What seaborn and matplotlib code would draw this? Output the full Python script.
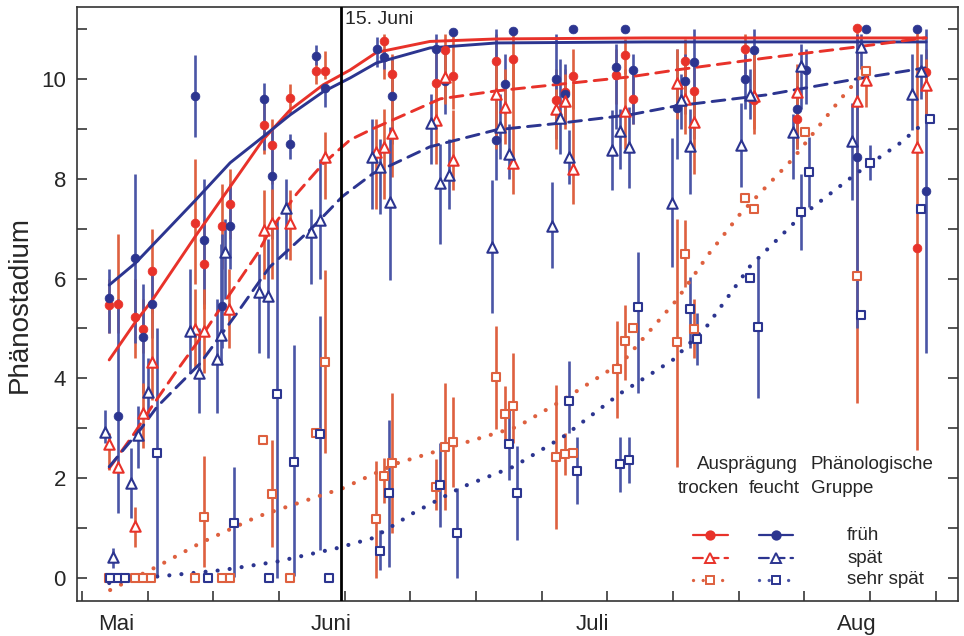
import matplotlib.pyplot as plt
import seaborn as sns

sns.set_theme(style="ticks")
plt.rcParams["font.family"] = ["Liberation Sans", "DejaVu Sans"]

RED = "#e8322a"
RED_BAR = "#de603f"
BLUE = "#2c3590"
BLUE_BAR = "#4a55a6"

# x = Tage (Wochenraster), y = Phänostadium
month_pos = [3.6, 26.6, 54.4, 82.6]
month_lab = ["Mai", "Juni", "Juli", "Aug"]
juni15 = 27.6

# früh, trocken
ft_x = [2.9, 3.8, 5.7, 6.5, 7.5, 12.1, 13.0, 14.9, 15.8, 19.4, 20.3, 22.2, 24.9, 25.9, 32.2, 33.1, 37.7,
        38.7, 39.6, 44.1, 45.9, 50.5, 51.5, 52.4, 56.9, 57.9, 58.8, 64.3, 65.3, 70.7, 71.6, 76.2, 82.6, 89.0, 90.0]
ft_y = [5.47, 5.5, 5.23, 4.99, 6.15, 7.12, 6.29, 7.06, 7.49, 9.08, 8.68, 9.62, 10.16, 10.16, 10.76, 10.1, 9.92,
        10.58, 10.05, 10.35, 10.39, 9.57, 9.73, 10.06, 10.08, 10.47, 9.6, 10.36, 9.76, 10.6, 9.58, 9.2, 11.02, 6.61, 10.13]
ft_lo = [4.9, 4.9, 4.4, 4.5, 5.3, 5.9, 5.4, 6.2, 6.8, 8.5, 7.9, 9.3, 9.9, 10.0, 10.0, 9.6, 9.2,
         10.2, 9.4, 9.7, 9.8, 9.0, 9.2, 9.4, 9.5, 10.1, 9.1, 9.7, 9.0, 10.1, 8.9, 8.7, 3.5, 2.56, 9.6]
ft_hi = [6.0, 6.9, 6.0, 5.6, 7.0, 8.4, 7.2, 7.9, 8.2, 9.7, 9.2, 9.9, 10.45, 10.55, 10.9, 10.5, 10.6,
         10.9, 10.9, 10.9, 10.9, 10.2, 10.2, 10.6, 10.6, 10.8, 10.1, 10.8, 10.3, 10.9, 10.2, 9.7, 11.05, 11.0, 10.6]
ft_cx = [2.9, 5.7, 7.5, 12.1, 15.8, 19.3, 22.2, 25.7, 28.6, 31.4, 37.1, 44.2, 60.0, 90.0]
ft_cy = [4.37, 5.13, 5.57, 6.85, 7.84, 8.78, 9.38, 9.88, 10.18, 10.53, 10.75, 10.8, 10.82, 10.82]

# früh, feucht
ff_x = [2.9, 3.8, 5.7, 6.5, 7.5, 12.1, 13.0, 14.9, 15.8, 19.4, 20.3, 22.2, 24.9, 25.9, 31.4, 32.2, 33.1, 37.7,
        38.7, 39.6, 44.1, 45.1, 45.9, 50.5, 51.5, 52.4, 56.9, 57.9, 58.8, 63.4, 64.3, 65.3, 70.7, 71.6, 76.2,
        77.2, 82.6, 83.6, 89.0, 90.0]
ff_y = [5.62, 3.25, 6.42, 4.83, 5.49, 9.66, 6.77, 5.45, 7.06, 9.59, 8.06, 8.7, 10.46, 9.81, 10.6, 10.43, 9.66, 10.6,
        9.96, 10.94, 8.78, 9.9, 10.95, 10.0, 9.69, 11.0, 10.23, 11.0, 10.18, 9.41, 9.95, 10.33, 10.0, 10.57, 9.4,
        10.17, 8.44, 11.0, 11.0, 7.76]
ff_lo = [4.9, 1.3, 4.7, 3.7, 4.8, 8.84, 5.5, 4.6, 6.2, 8.58, 6.8, 8.4, 10.28, 9.44, 10.24, 10.2, 8.7, 9.8,
         9.3, 10.94, 7.98, 9.3, 10.95, 8.8, 9.1, 11.0, 9.0, 11.0, 9.1, 8.4, 9.3, 8.8, 9.4, 9.8, 8.6,
         9.5, 5.0, 11.0, 11.0, 4.5]
ff_hi = [6.2, 5.6, 8.1, 5.9, 6.1, 10.48, 8.0, 6.9, 7.9, 9.92, 9.0, 8.9, 10.68, 9.92, 10.84, 10.6, 10.4, 10.9,
         10.6, 10.94, 11.0, 10.5, 10.95, 10.9, 10.3, 11.0, 10.7, 11.0, 10.5, 10.6, 10.5, 11.0, 10.5, 11.0, 10.2,
         10.6, 10.9, 11.0, 11.0, 11.0]
ff_cx = [2.9, 5.7, 12.1, 15.8, 19.3, 22.2, 25.7, 28.6, 31.4, 37.1, 44.2, 60.0, 90.0]
ff_cy = [5.87, 6.31, 7.57, 8.32, 8.84, 9.28, 9.74, 10.02, 10.32, 10.62, 10.72, 10.74, 10.74]

# spät, trocken
st_x = [2.9, 3.8, 5.7, 6.5, 7.5, 12.1, 13.0, 15.7, 19.4, 20.3, 22.2, 25.9, 31.3, 32.2, 33.1, 37.7, 38.7,
        39.6, 44.1, 45.1, 45.9, 50.5, 51.5, 52.4, 57.9, 63.4, 64.3, 65.3, 71.6, 76.2, 82.6, 83.6, 89.0, 90.0]
st_y = [2.68, 2.23, 1.04, 3.3, 4.33, 4.98, 4.94, 5.38, 6.97, 7.12, 7.12, 8.44, 8.54, 8.63, 8.91, 9.18, 10.03,
        8.38, 9.7, 9.43, 8.32, 9.39, 9.56, 8.19, 9.36, 9.91, 9.6, 9.14, 9.65, 9.73, 9.55, 9.98, 8.63, 9.87]
st_lo = [2.16, 2.23, 0.63, 2.6, 3.57, 4.2, 4.1, 4.6, 6.0, 6.0, 6.37, 7.6, 7.4, 7.6, 8.04, 8.3, 9.5,
         7.78, 8.6, 8.7, 7.7, 8.6, 9.0, 7.5, 8.6, 9.2, 8.9, 8.1, 9.0, 8.6, 9.55, 9.44, 8.63, 9.3]
st_hi = [2.9, 2.23, 1.43, 3.9, 5.57, 5.8, 5.8, 6.2, 7.78, 7.8, 7.78, 8.94, 9.2, 9.4, 10.38, 9.9, 10.5,
         9.38, 10.3, 10.2, 10.38, 9.8, 10.1, 9.9, 10.2, 10.6, 10.3, 9.8, 10.6, 10.3, 9.55, 10.25, 8.63, 10.4]
st_cx = [2.9, 5.4, 7.5, 9.9, 12.6, 15.8, 18.7, 20.0, 22.9, 25.7, 28.6, 31.0, 38.2, 44.2, 51.3, 58.4, 63.4,
         73.0, 82.6, 89.9]
st_cy = [2.2, 2.85, 3.45, 4.1, 4.8, 5.7, 6.5, 6.95, 7.7, 8.3, 8.78, 9.0, 9.6, 9.76, 9.9, 10.04, 10.18,
         10.42, 10.64, 10.82]

# spät, feucht
sf_x = [2.4, 3.3, 5.2, 6.0, 7.0, 11.5, 12.5, 14.4, 14.8, 15.2, 18.9, 19.8, 21.7, 24.4, 25.4, 30.9, 31.8,
        32.8, 37.2, 38.2, 39.1, 43.7, 44.6, 45.5, 50.1, 51.0, 51.9, 56.5, 57.4, 58.3, 62.9, 63.9, 64.8, 70.3,
        71.2, 75.8, 76.7, 82.1, 83.1, 88.5, 89.5]
sf_y = [2.93, 0.43, 1.91, 2.87, 3.73, 4.94, 4.1, 4.38, 4.87, 6.54, 5.74, 5.65, 7.42, 6.94, 7.17, 8.43, 8.24,
        7.54, 9.11, 7.92, 8.08, 6.64, 9.03, 8.5, 7.06, 9.21, 8.44, 8.58, 8.96, 8.64, 7.51, 9.58, 8.66, 8.68,
        9.68, 8.93, 10.26, 8.76, 10.63, 9.7, 10.15]
sf_lo = [2.7, 0.2, 1.2, 2.2, 3.2, 4.1, 3.3, 3.3, 4.3, 5.6, 4.5, 4.4, 6.4, 5.9, 6.0, 7.4, 7.3,
         5.97, 8.3, 6.7, 7.4, 5.3, 8.4, 8.0, 6.21, 8.5, 7.9, 7.78, 8.2, 7.82, 6.24, 9.0, 7.7, 7.84,
         9.2, 8.0, 9.4, 7.58, 10.2, 8.98, 9.6]
sf_hi = [3.37, 0.6, 2.6, 3.45, 4.4, 6.2, 5.0, 5.6, 6.7, 7.2, 6.5, 6.8, 8.0, 7.4, 8.4, 9.2, 8.8,
         9.04, 9.7, 8.7, 8.8, 7.98, 9.7, 9.1, 7.94, 10.4, 8.98, 9.38, 9.4, 9.44, 8.82, 10.1, 9.4, 9.52,
         10.2, 9.3, 10.7, 9.52, 10.9, 10.5, 10.5]
sf_cx = [2.9, 6.2, 8.0, 12.6, 16.5, 20.0, 24.3, 27.8, 31.0, 37.1, 44.2, 51.3, 58.4, 63.4, 73.0, 82.6, 89.9]
sf_cy = [2.23, 2.97, 3.43, 4.3, 5.3, 6.23, 6.97, 7.65, 8.1, 8.64, 8.98, 9.12, 9.28, 9.46, 9.68, 10.0, 10.22]

# sehr spät, trocken
sst_x = [2.9, 5.6, 6.5, 7.4, 12.1, 13.0, 14.9, 15.8, 19.3, 20.3, 22.2, 24.9, 25.9, 31.3, 32.2, 33.1, 37.7,
         38.7, 39.6, 44.1, 45.1, 45.9, 50.5, 51.5, 52.4, 57.0, 57.9, 58.8, 63.4, 64.3, 65.3, 70.7, 71.6,
         77.1, 82.6, 83.6]
sst_y = [0, 0, 0, 0, 0, 1.22, 0, 0, 2.77, 1.68, 0, 2.91, 4.33, 1.18, 2.05, 2.3, 1.82,
         2.63, 2.72, 4.02, 3.28, 3.45, 2.42, 2.48, 2.5, 4.18, 4.74, 5.0, 4.72, 6.49, 4.99, 7.62, 7.39,
         8.93, 6.05, 10.15]
sst_lo = [0, 0, 0, 0, 0, 0.22, 0, 0, 2.77, 0.63, 0, 2.91, 2.5, 0.0, 1.5, 0.9, 1.36,
          1.36, 1.83, 2.98, 2.7, 2.7, 0.98, 2.06, 2.5, 3.2, 3.97, 5.0, 2.23, 5.84, 4.4, 7.62, 7.39,
          8.93, 6.05, 10.15]
sst_hi = [0, 0, 0, 0, 0, 2.44, 0, 0, 2.77, 2.77, 0, 2.91, 6.17, 2.35, 2.4, 3.71, 2.38,
          3.91, 3.63, 5.05, 3.85, 4.5, 3.87, 2.9, 2.5, 5.15, 5.47, 5.0, 7.2, 7.17, 5.6, 7.62, 7.39,
          8.93, 6.05, 10.15]
sst_cx = [3.0, 8.0, 12.6, 18.7, 27.8, 33.6, 40.6, 46.4, 51.3, 57.7, 63.4, 66.9, 70.2, 75.8, 80.8, 82.2, 83.6]
sst_cy = [-0.24, 0.23, 0.7, 1.23, 1.8, 2.3, 2.7, 3.03, 3.57, 4.34, 5.57, 6.51, 7.3, 8.4, 9.58, 9.88, 10.15]

# sehr spät, feucht
ssf_x = [3.0, 3.8, 4.6, 8.0, 13.4, 16.2, 19.9, 20.8, 22.6, 25.4, 26.3, 31.8, 32.7, 38.2, 40.0, 45.5, 46.4,
         51.9, 52.8, 57.4, 58.3, 59.3, 64.8, 65.6, 71.2, 72.1, 76.7, 77.5, 83.1, 84.0, 89.5, 90.4]
ssf_y = [0, 0, 0, 2.5, 0, 1.11, 0, 3.68, 2.33, 2.88, 0, 0.55, 1.7, 1.86, 0.9, 2.68, 1.7,
         3.55, 2.14, 2.28, 2.36, 5.44, 5.38, 4.79, 6.02, 5.02, 7.34, 8.14, 5.26, 8.31, 7.39, 9.2]
ssf_lo = [0, 0, 0, 0.03, 0, 0.03, 0, 0.0, 0.05, 0.56, 0, 0.16, 0.23, 1.03, 0.0, 1.96, 0.76,
          2.9, 1.48, 1.73, 1.9, 3.7, 4.6, 4.27, 6.02, 3.6, 6.57, 7.44, 5.26, 7.98, 7.39, 9.2]
ssf_hi = [0, 0, 0, 5.0, 0, 2.23, 0, 7.17, 4.67, 5.24, 0, 0.96, 3.17, 2.7, 1.8, 3.39, 2.65,
          4.35, 2.82, 2.83, 2.83, 6.54, 6.04, 5.3, 6.02, 6.4, 8.1, 8.84, 5.26, 8.68, 7.39, 9.2]
ssf_cx = [2.9, 8.0, 15.0, 20.8, 27.2, 31.0, 35.3, 40.6, 46.0, 51.3, 57.4, 63.0, 66.6, 71.2, 76.6, 82.6,
          87.2, 89.9]
ssf_cy = [-0.1, 0.03, 0.16, 0.33, 0.6, 0.8, 1.3, 1.83, 2.23, 2.83, 3.7, 4.37, 5.04, 6.24, 7.24, 8.11,
          8.71, 9.14]

DASH = (0, (4.4, 2.7))
DOT = (0, (0.01, 2.9))

series = [
    (ft_x, ft_y, ft_lo, ft_hi, ft_cx, ft_cy, RED, RED_BAR, "o", True, "-"),
    (ff_x, ff_y, ff_lo, ff_hi, ff_cx, ff_cy, BLUE, BLUE_BAR, "o", True, "-"),
    (st_x, st_y, st_lo, st_hi, st_cx, st_cy, RED, RED_BAR, "^", False, DASH),
    (sf_x, sf_y, sf_lo, sf_hi, sf_cx, sf_cy, BLUE, BLUE_BAR, "^", False, DASH),
    (sst_x, sst_y, sst_lo, sst_hi, sst_cx, sst_cy, RED_BAR, RED_BAR, "s", False, DOT),
    (ssf_x, ssf_y, ssf_lo, ssf_hi, ssf_cx, ssf_cy, BLUE, BLUE_BAR, "s", False, DOT),
]

fig = plt.figure(figsize=(9.64, 6.36), dpi=100)
ax = fig.add_axes([0.0799, 0.055, 0.9139, 0.934])

# error bars
for x, y, lo, hi, cx, cy, col, bar, mk, filled, ls in series:
    ax.vlines(x, lo, hi, color=bar, lw=1.9, zorder=1)

# fitted curves
for x, y, lo, hi, cx, cy, col, bar, mk, filled, ls in series:
    lw = 3.0 if ls == DOT else 2.1
    sns.lineplot(x=cx, y=cy, color=col, lw=lw, linestyle=ls, dash_capstyle="round",
                 estimator=None, sort=False, ax=ax, zorder=2)

# markers
for x, y, lo, hi, cx, cy, col, bar, mk, filled, ls in series:
    if filled:
        sns.scatterplot(x=x, y=y, marker=mk, s=40, color=col, edgecolor=col, linewidth=0.5, ax=ax, zorder=3)
    else:
        size = 56 if mk == "^" else 38
        sns.scatterplot(x=x, y=y, marker=mk, s=size, color="white", edgecolor=col, linewidth=1.5,
                        ax=ax, zorder=3)

ax.axvline(juni15, color="black", lw=2.0, zorder=4)
ax.text(juni15 + 0.45, 11.18, "15. Juni", fontsize=14, va="center", ha="left")

ax.set_xlim(-0.53, 93.4)
ax.set_ylim(-0.46, 11.44)
ax.set_xticks(month_pos)
ax.set_xticklabels(month_lab, fontsize=16)
ax.set_xticks(range(0, 92, 7), minor=True)
ax.set_yticks(range(0, 11, 2))
ax.set_yticklabels([str(v) for v in range(0, 11, 2)], fontsize=16)
ax.set_yticks(range(1, 12, 2), minor=True)
ax.tick_params(axis="x", which="major", length=0, pad=9)
ax.tick_params(axis="x", which="minor", direction="in", length=7, width=1.1, top=False)
ax.tick_params(axis="y", which="both", direction="in", length=7, width=1.1, right=True, pad=8)
ax.set_ylabel("Phänostadium", fontsize=20, labelpad=6)
ax.set_xlabel("")
for sp in ax.spines.values():
    sp.set_color("#333333")
    sp.set_linewidth(1.2)

# legend
tr = ax.transAxes
ax.text(0.7605, 0.229, "Ausprägung", transform=tr, ha="center", va="center", fontsize=13.5)
ax.text(0.902, 0.229, "Phänologische", transform=tr, ha="center", va="center", fontsize=13.5)
ax.text(0.717, 0.190, "trocken", transform=tr, ha="center", va="center", fontsize=13.5)
ax.text(0.791, 0.190, "feucht", transform=tr, ha="center", va="center", fontsize=13.5)
ax.text(0.869, 0.190, "Gruppe", transform=tr, ha="center", va="center", fontsize=13.5)
rows = [("früh", "o", True, "-", 0.111), ("spät", "^", False, DASH, 0.0724),
        ("sehr spät", "s", False, DOT, 0.0354)]
for label, mk, filled, ls, yy in rows:
    for x0, x1, col, bar in [(0.699, 0.739, RED, RED_BAR), (0.774, 0.813, BLUE, BLUE_BAR)]:
        lcol = bar if ls == DOT else col
        ax.plot([x0, x1], [yy, yy], transform=tr, color=lcol, lw=1.6 if ls != DOT else 2.4,
                linestyle=ls, dash_capstyle="round", clip_on=False, zorder=5)
        mcol = RED_BAR if (mk == "s" and col == RED) else col
        ax.plot([(x0 + x1) / 2], [yy], transform=tr, marker=mk, ms=6 if mk != "^" else 7,
                mfc=col if filled else "white", mec=mcol, mew=1.4, clip_on=False, zorder=6)
    ax.text(0.874, yy, label, transform=tr, ha="left", va="center", fontsize=13.5)

fig.savefig("out.png", dpi=100)
